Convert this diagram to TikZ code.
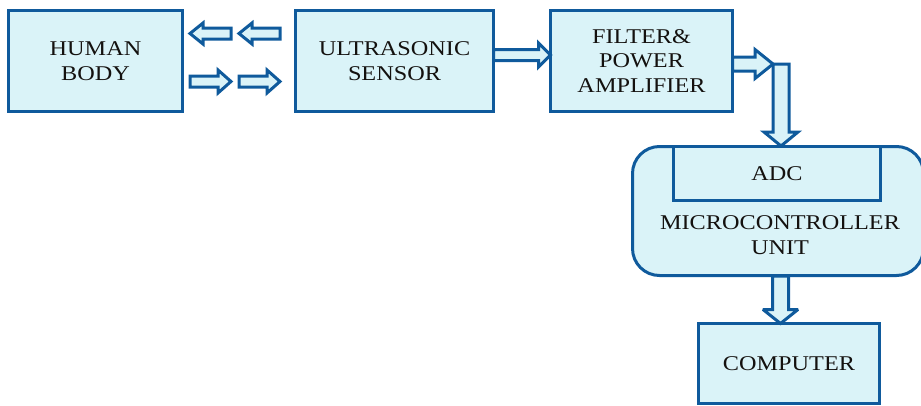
\documentclass[tikz,border=0pt]{standalone}
\usepackage{fontspec}
\setmainfont[FakeStretch=1.155]{Liberation Serif}
\usetikzlibrary{calc}
\definecolor{edgeblue}{HTML}{0F5A9C}
\definecolor{boxfill}{HTML}{DAF3F8}
\definecolor{inkdark}{HTML}{14110F}
\tikzset{
  x=1pt,y=-1pt,
  box/.style={draw=edgeblue,fill=boxfill,line width=3pt,inner sep=0pt,outer sep=0pt,
    text=inkdark,align=center,font=\fontsize{21}{24.5}\selectfont},
  label text/.style={inner sep=0pt,text=inkdark,align=center,font=\fontsize{21}{24.5}\selectfont},
  blockarrow/.style={draw=edgeblue,fill=boxfill,line width=3pt,line join=miter,miter limit=3},
}
% from, to, half shaft, half head, head length
\newcommand{\blockarrow}[5]{%
  \coordinate (headbase) at ($(#2)!#5pt!(#1)$);
  \draw[blockarrow]
    ($(#1)!#3pt!90:(#2)$) -- ($(headbase)!#3pt!-90:(#1)$) -- ($(headbase)!#4pt!-90:(#1)$)
    -- (#2) -- ($(headbase)!#4pt!90:(#1)$) -- ($(headbase)!#3pt!90:(#1)$)
    -- ($(#1)!#3pt!-90:(#2)$) -- cycle;
}
\begin{document}
\begin{tikzpicture}
\useasboundingbox (0,0) rectangle (921,405);
\node[box,minimum width=174pt,minimum height=101pt] (human) at (95.5,61) {HUMAN\\BODY};
\node[box,minimum width=198pt,minimum height=101pt] (ultra) at (394.5,61) {ULTRASONIC\\SENSOR};
\node[box,minimum width=182pt,minimum height=101pt] (filter) at (641.5,61) {FILTER\&\\POWER\\AMPLIFIER};
\node[box,rounded corners=27pt,minimum width=291pt,minimum height=129pt] (mcu) at (778,211) {};
\node[box,minimum width=207pt,minimum height=54pt] (adc) at (777,173.5) {ADC};
\node[label text] (mcutext) at (780,235) {MICROCONTROLLER\\UNIT};
\node[box,minimum width=181pt,minimum height=80pt] (computer) at (789,363.5) {COMPUTER};

\coordinate (a1s) at (231,33.5); \coordinate (a1e) at (190,33.5);
\coordinate (a2s) at (280,33.5); \coordinate (a2e) at (239,33.5);
\coordinate (a3s) at (190,81.5); \coordinate (a3e) at (231,81.5);
\coordinate (a4s) at (239,81.5); \coordinate (a4e) at (280,81.5);
\blockarrow{a1s}{a1e}{5.5}{10.5}{13}
\blockarrow{a2s}{a2e}{5.5}{10.5}{13}
\blockarrow{a3s}{a3e}{5.5}{11.5}{13}
\blockarrow{a4s}{a4e}{5.5}{11.5}{13}

\coordinate (u1) at (ultra.east |- 0,55); \coordinate (f1) at (filter.west |- 0,55);
\blockarrow{u1}{f1}{5.5}{12}{12}
\coordinate (f2) at (filter.east |- 0,64); \coordinate (corner) at (773,64);
\blockarrow{f2}{corner}{7}{14.5}{18}
\coordinate (c2) at (781,64); \coordinate (adctop) at (781,146);
\blockarrow{c2}{adctop}{8}{17}{14}
\coordinate (m1) at (780.5,276); \coordinate (comptop) at (computer.north -| 780.5,0);
\blockarrow{m1}{comptop}{8}{17.5}{14}
\end{tikzpicture}
\end{document}
